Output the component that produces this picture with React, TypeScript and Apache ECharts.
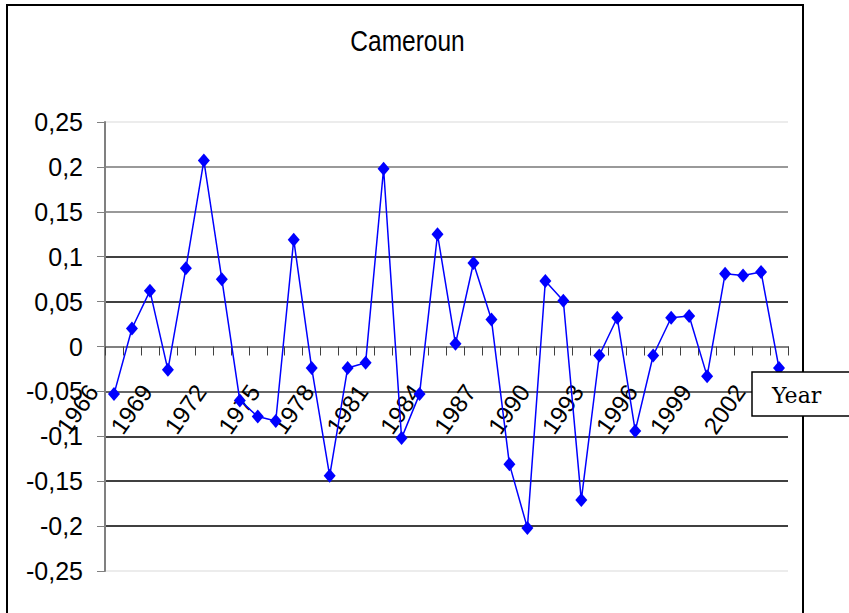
import React, { useEffect, useRef } from "react";
import * as echarts from "echarts";

const years = [
  "1966", "1967", "1968", "1969", "1970", "1971", "1972", "1973", "1974", "1975",
  "1976", "1977", "1978", "1979", "1980", "1981", "1982", "1983", "1984", "1985",
  "1986", "1987", "1988", "1989", "1990", "1991", "1992", "1993", "1994", "1995",
  "1996", "1997", "1998", "1999", "2000", "2001", "2002", "2003",
];

const values = [
  -0.053, 0.02, 0.062, -0.026, 0.087, 0.207, 0.075, -0.06, -0.078, -0.083,
  0.119, -0.024, -0.144, -0.024, -0.018, 0.198, -0.102, -0.053, 0.125, 0.003,
  0.093, 0.03, -0.131, -0.202, 0.073, 0.051, -0.171, -0.01, 0.032, -0.094,
  -0.01, 0.032, 0.034, -0.033, 0.081, 0.079, 0.083, -0.024,
];

const yMin = -0.25;
const yMax = 0.25;
const yStep = 0.05;

const titleText = "Cameroun";
const axisName = "Year";

export default function App() {
  const ref = useRef<HTMLDivElement>(null);

  useEffect(() => {
    if (!ref.current) return;
    const chart = echarts.init(ref.current, null, { renderer: "svg" });
    chart.setOption({
      animation: false,
      backgroundColor: "#ffffff",
      grid: {
        left: 105,
        right: 61,
        top: 122,
        bottom: 42,
        containLabel: false,
        outerBoundsMode: "none",
      },
      xAxis: {
        type: "category",
        data: years,
        boundaryGap: true,
        axisLine: { onZero: true, lineStyle: { color: "#808080", width: 2 } },
        axisTick: {
          show: true,
          interval: 0,
          length: 9,
          inside: false,
          lineStyle: { color: "#404040", width: 1 },
        },
        axisLabel: {
          interval: 2,
          rotate: 55,
          margin: -214,
          padding: [0, 37, 0, 0],
          color: "#000",
          fontFamily: "Liberation Sans",
          fontSize: 24,
        },
        splitLine: { show: false },
      },
      yAxis: {
        type: "value",
        min: yMin,
        max: yMax,
        interval: yStep,
        axisLine: { show: true, lineStyle: { color: "#808080", width: 2 } },
        axisTick: { show: true, length: 8, lineStyle: { color: "#808080" } },
        axisLabel: {
          margin: 22,
          color: "#000",
          fontFamily: "Liberation Sans",
          fontSize: 25,
          formatter: (v: number) =>
            String(Number(v.toFixed(2))).replace(".", ","),
        },
        splitLine: {
          show: true,
          lineStyle: {
            width: 1.5,
            color: [
              "#e6e6e6", "#000", "#000", "#000", "#333", "#808080",
              "#000", "#000", "#777", "#777", "#e6e6e6",
            ],
          },
        },
      },
      series: [
        {
          type: "line",
          data: values,
          symbol: "diamond",
          symbolSize: [12, 14],
          showAllSymbol: true,
          itemStyle: { color: "#0000ff" },
          lineStyle: { color: "#0000ff", width: 1.5 },
          z: 5,
        },
      ],
      graphic: [
        {
          type: "rect",
          shape: { x: 7, y: 5, width: 796, height: 700 },
          style: { fill: "none", stroke: "#000", lineWidth: 2 },
          z: 1,
          silent: true,
        },
        {
          type: "text",
          x: 407.5,
          y: 41,
          scaleY: 1.18,
          style: {
            text: titleText,
            textAlign: "center",
            textVerticalAlign: "middle",
            font: "24.5px 'Liberation Sans'",
            fill: "#000",
          },
          z: 10,
        },
        {
          type: "rect",
          shape: { x: 752, y: 372, width: 120, height: 44 },
          style: { fill: "#fff", stroke: "#000", lineWidth: 1.5 },
          z: 20,
        },
        {
          type: "text",
          x: 772,
          y: 395,
          style: {
            text: axisName,
            textAlign: "left",
            textVerticalAlign: "middle",
            font: "22px 'DejaVu Serif'",
            fill: "#000",
          },
          z: 21,
        },
      ],
    });
    return () => chart.dispose();
  }, []);

  return (
    <div
      ref={ref}
      style={{ position: "fixed", left: 0, top: 0, width: 849, height: 613 }}
    />
  );
}
